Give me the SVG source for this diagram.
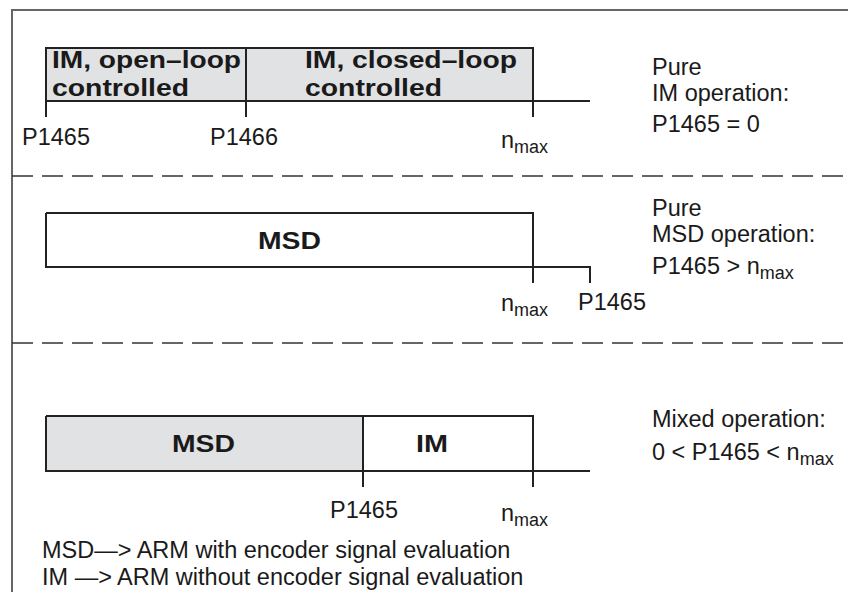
<svg xmlns="http://www.w3.org/2000/svg" width="848" height="592" viewBox="0 0 848 592">
<style>
.t{font-family:"Liberation Sans",Arial,sans-serif;font-size:23.5px;fill:#1a1a1a}
.b{font-family:"Liberation Sans",Arial,sans-serif;font-size:24px;font-weight:bold;fill:#1a1a1a}
.s{font-size:18px}
.ln{stroke:#222;stroke-width:2;fill:none}
.dash{stroke:#333;stroke-width:1.5;stroke-dasharray:21 9;fill:none}
.gray{fill:#e1e2e4}
</style>
<rect width="848" height="592" fill="#fff"/>
<path d="M12,592 V10 H848" stroke="#666" stroke-width="2" fill="none"/>
<g id="separators">
<line class="dash" x1="12" y1="176" x2="848" y2="176"/>
<line class="dash" x1="12" y1="343" x2="848" y2="343"/>
</g>
<g id="section1">
<rect x="46" y="48" width="487" height="53" class="gray"/>
<path class="ln" d="M46,117 V48 H533 V117 M246,48 V117 M46,101 H590"/>
<text class="b" x="52" y="68" textLength="189" lengthAdjust="spacingAndGlyphs">IM, open–loop</text>
<text class="b" x="52" y="96" textLength="137" lengthAdjust="spacingAndGlyphs">controlled</text>
<text class="b" x="305" y="68" textLength="212" lengthAdjust="spacingAndGlyphs">IM, closed–loop</text>
<text class="b" x="305" y="96" textLength="137" lengthAdjust="spacingAndGlyphs">controlled</text>
<text class="t" x="22" y="145">P1465</text>
<text class="t" x="210" y="145">P1466</text>
<text class="t" x="501" y="148">n<tspan class="s" dy="5">max</tspan></text>
<text class="t" x="652" y="75">Pure</text>
<text class="t" x="652" y="101">IM operation:</text>
<text class="t" x="652" y="132">P1465 = 0</text>
</g>
<g id="section2">
<path class="ln" d="M46,213 H533 V283 M46,213 V267 H590 V283"/>
<text class="b" x="258" y="249" textLength="63" lengthAdjust="spacingAndGlyphs">MSD</text>
<text class="t" x="501" y="311">n<tspan class="s" dy="5">max</tspan></text>
<text class="t" x="578" y="310">P1465</text>
<text class="t" x="652" y="216">Pure</text>
<text class="t" x="652" y="242">MSD operation:</text>
<text class="t" x="652" y="274">P1465 &gt; n<tspan class="s" dy="5">max</tspan></text>
</g>
<g id="section3">
<rect x="46" y="416" width="317" height="55" class="gray"/>
<path class="ln" d="M46,416 H533 V487 M46,416 V471 H590 M363,416 V487"/>
<text class="b" x="172" y="452" textLength="63" lengthAdjust="spacingAndGlyphs">MSD</text>
<text class="b" x="416" y="452" textLength="32" lengthAdjust="spacingAndGlyphs">IM</text>
<text class="t" x="330" y="518">P1465</text>
<text class="t" x="501" y="521">n<tspan class="s" dy="5">max</tspan></text>
<text class="t" x="652" y="427">Mixed operation:</text>
<text class="t" x="652" y="460">0 &lt; P1465 &lt; n<tspan class="s" dy="5">max</tspan></text>
</g>
<g id="legend">
<text class="t" x="42" y="558">MSD—&gt; ARM with encoder signal evaluation</text>
<text class="t" x="42" y="585">IM —&gt; ARM without encoder signal evaluation</text>
</g>
</svg>
